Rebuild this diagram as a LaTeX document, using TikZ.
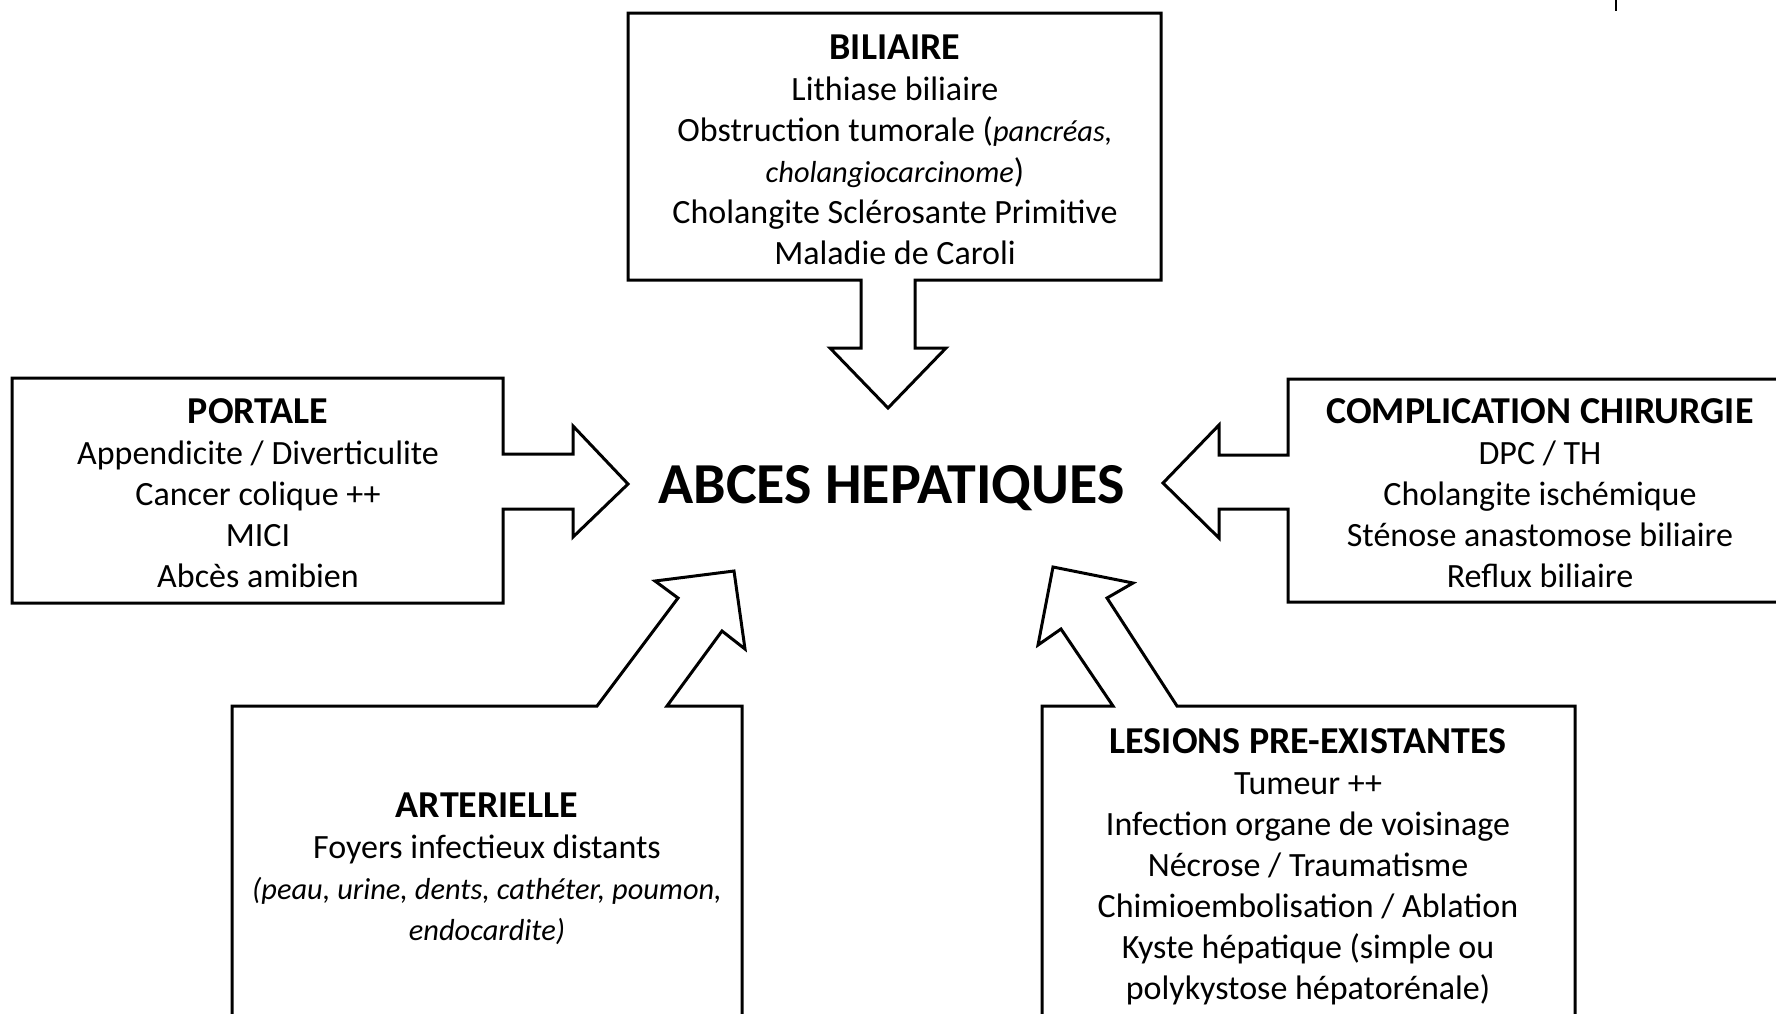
\documentclass[tikz,border=0pt]{standalone}
\usepackage{fontspec}
\setmainfont{Carlito}
\newcommand{\itsm}[1]{{\fontsize{15.2}{20.5}\selectfont\itshape #1}}
\newcommand{\hd}[1]{{\fontsize{19}{20.5}\selectfont\bfseries #1}}
\begin{document}
\begin{tikzpicture}[x=0.5pt,y=-0.5pt,
  outline/.style={draw=black, line width=1.5pt, line join=miter},
  body/.style={align=center, inner sep=0pt, font=\fontsize{17}{20.5}\selectfont},
  titletext/.style={inner sep=0pt, font=\fontsize{29}{32}\selectfont\bfseries}]
\useasboundingbox (0,0) rectangle (1776,1013);
\fill[white] (0,0) rectangle (1776,1013);
\clip (0,0) rectangle (1776,1013);

% small tick at top right
\draw[line width=1.1pt] (1616,0) -- (1616,11);

% BILIAIRE box with downward arrow
\draw[outline] (861,280) -- (628,280) -- (628,13) -- (1161,13) -- (1161,280)
  -- (915,280) -- (915,348) -- (946,348) -- (888,408) -- (830,348) -- (861,348) -- cycle;

% PORTALE box with rightward arrow
\draw[outline] (503,454) -- (573,454) -- (573,426) -- (628,484) -- (573,537)
  -- (573,509) -- (503,509) -- (503,603) -- (12,603) -- (12,378) -- (503,378) -- cycle;

% COMPLICATION box with leftward arrow
\draw[outline] (1288,455) -- (1219,455) -- (1219,425) -- (1163,483) -- (1219,538)
  -- (1219,509) -- (1288,509) -- (1288,602) -- (1790,602) -- (1790,379) -- (1288,379) -- cycle;

% ARTERIELLE box with up-right arrow
\draw[outline] (597,706) -- (232,706) -- (232,1030) -- (742,1030) -- (742,706)
  -- (667,706) -- (722,631) -- (745,649) -- (734,571) -- (655,581) -- (678,598) -- cycle;

% LESIONS box with up-left arrow
\draw[outline] (1113,706) -- (1042,706) -- (1042,1030) -- (1575,1030) -- (1575,706)
  -- (1177,706) -- (1107,598) -- (1133,583) -- (1053,567) -- (1038,645) -- (1061,629) -- cycle;

% texts
\node[titletext, anchor=base] (abces) at (891.5,503) {ABCES HEPATIQUES};

\node[body] (biliaire) at (895,150) {\hd{BILIAIRE}\\Lithiase biliaire\\Obstruction tumorale (\itsm{pancréas,}\\\itsm{cholangiocarcinome})\\Cholangite Sclérosante Primitive\\Maladie de Caroli};

\node[body] (portale) at (258,493) {\hd{PORTALE}\\Appendicite / Diverticulite\\Cancer colique ++\\MICI\\Abcès amibien};

\node[body] (chirurgie) at (1540,493) {\hd{COMPLICATION CHIRURGIE}\\DPC / TH\\Cholangite ischémique\\Sténose anastomose biliaire\\Reflux biliaire};

\node[body] (arterielle) at (487,869) {\hd{ARTERIELLE}\\Foyers infectieux distants\\\itsm{(peau, urine, dents, cathéter, poumon,}\\\itsm{endocardite)}};

\node[body] (lesions) at (1308,867) {\hd{LESIONS PRE-EXISTANTES}\\Tumeur ++\\Infection organe de voisinage\\Nécrose / Traumatisme\\Chimioembolisation / Ablation\\Kyste hépatique (simple ou\\polykystose hépatorénale)};
\end{tikzpicture}
\end{document}
